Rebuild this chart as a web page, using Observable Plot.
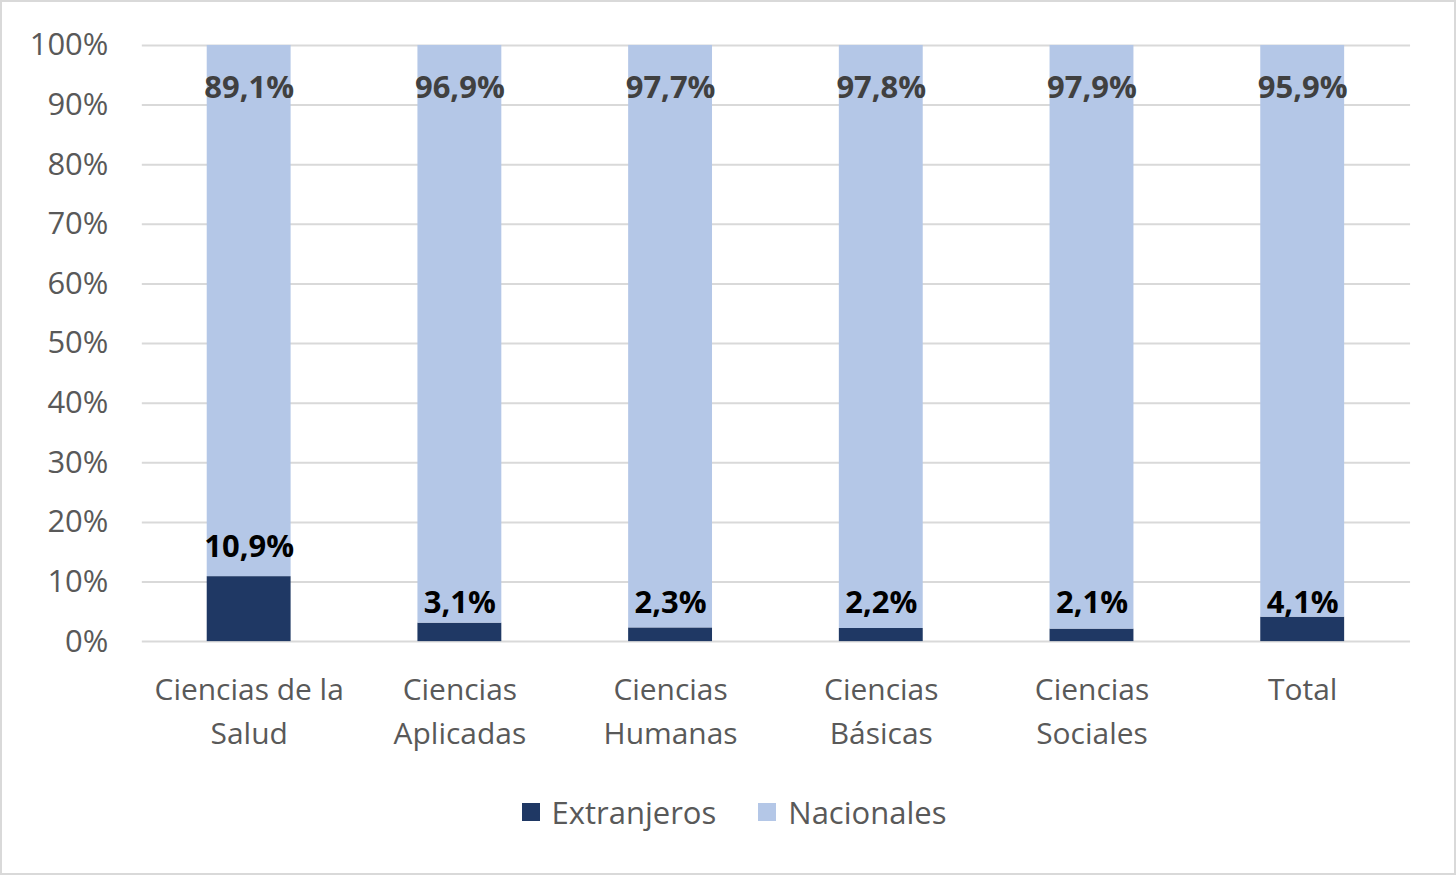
<!DOCTYPE html>
<html>
<head>
<meta charset="utf-8">
<script src="https://cdn.jsdelivr.net/npm/d3@7"></script>
<script src="https://cdn.jsdelivr.net/npm/@observablehq/plot@0.6"></script>
<style>
  html, body { margin: 0; padding: 0; background: #fff; }
  #frame { position: relative; width: 1456px; height: 875px; box-sizing: border-box; border: 2px solid #d9d9d9; overflow: hidden; }
  #chart { position: absolute; left: -2px; top: -2px; }
  #legend { position: absolute; left: 12px; right: 0; top: 789px; display: flex; justify-content: center; gap: 42px;
            font-family: "Open Sans", sans-serif; font-size: 31px; color: #595959; }
  .item { display: flex; align-items: center; }
  .sw { width: 18px; height: 18px; margin-right: 12px; }
</style>
</head>
<body>
<div id="frame">
  <div id="chart"></div>
  <div id="legend"></div>
</div>
<script>
const categories = ["Ciencias de la\nSalud", "Ciencias\nAplicadas", "Ciencias\nHumanas", "Ciencias\nBásicas", "Ciencias\nSociales", "Total"];
const series = ["Extranjeros", "Nacionales"];
const extranjeros = [10.9, 3.1, 2.3, 2.2, 2.1, 4.1];
const nacionales = [89.1, 96.9, 97.7, 97.8, 97.9, 95.9];
const yTicks = [0, 10, 20, 30, 40, 50, 60, 70, 80, 90, 100];
const colors = ["#1F3864", "#B4C7E7"];

const data = [];
categories.forEach((c, i) => {
  data.push({category: c, series: "Extranjeros", value: extranjeros[i]});
  data.push({category: c, series: "Nacionales", value: nacionales[i]});
});
const fmt = v => v.toFixed(1).replace(".", ",") + "%";
const ext = data.filter(d => d.series === "Extranjeros");
const nac = data.filter(d => d.series === "Nacionales");
const font = "'Open Sans', sans-serif";

const chart = Plot.plot({
  width: 1456,
  height: 780,
  marginLeft: 142,
  marginRight: 44,
  marginTop: 45,
  marginBottom: 138,
  style: {fontFamily: font, fontSize: "30px", color: "#595959", background: "transparent"},
  x: {domain: categories, paddingInner: 0.6, paddingOuter: 0.3, label: null},
  y: {domain: [0, 100], label: null},
  color: {domain: series, range: colors},
  marks: [
    Plot.ruleY(yTicks, {stroke: "#d9d9d9", strokeWidth: 2}),
    Plot.barY(data, {x: "category", y: "value", fill: "series", order: series}),
    Plot.axisY({ticks: yTicks, tickSize: 0, tickPadding: 34, tickFormat: d => d + "%", fill: "#595959", fontSize: 31}),
    Plot.axisX({tickSize: 0, tickPadding: 27, fill: "#595959", fontSize: 30, lineHeight: 1.47}),
    Plot.text(nac, {x: "category", y: () => 100, dy: 43, text: d => fmt(d.value), fill: "#404040", fontWeight: "bold", fontSize: 31}),
    Plot.text(ext, {x: "category", y: d => d.value >= 5 ? d.value + 5 : 6.4, text: d => fmt(d.value), fill: "#000", fontWeight: "bold", fontSize: 31})
  ]
});
document.getElementById("chart").appendChild(chart);

const legend = document.getElementById("legend");
series.forEach((s, i) => {
  const item = document.createElement("div");
  item.className = "item";
  const sw = document.createElement("span");
  sw.className = "sw";
  sw.style.background = colors[i];
  const t = document.createElement("span");
  t.textContent = s;
  item.appendChild(sw);
  item.appendChild(t);
  legend.appendChild(item);
});
</script>
</body>
</html>
